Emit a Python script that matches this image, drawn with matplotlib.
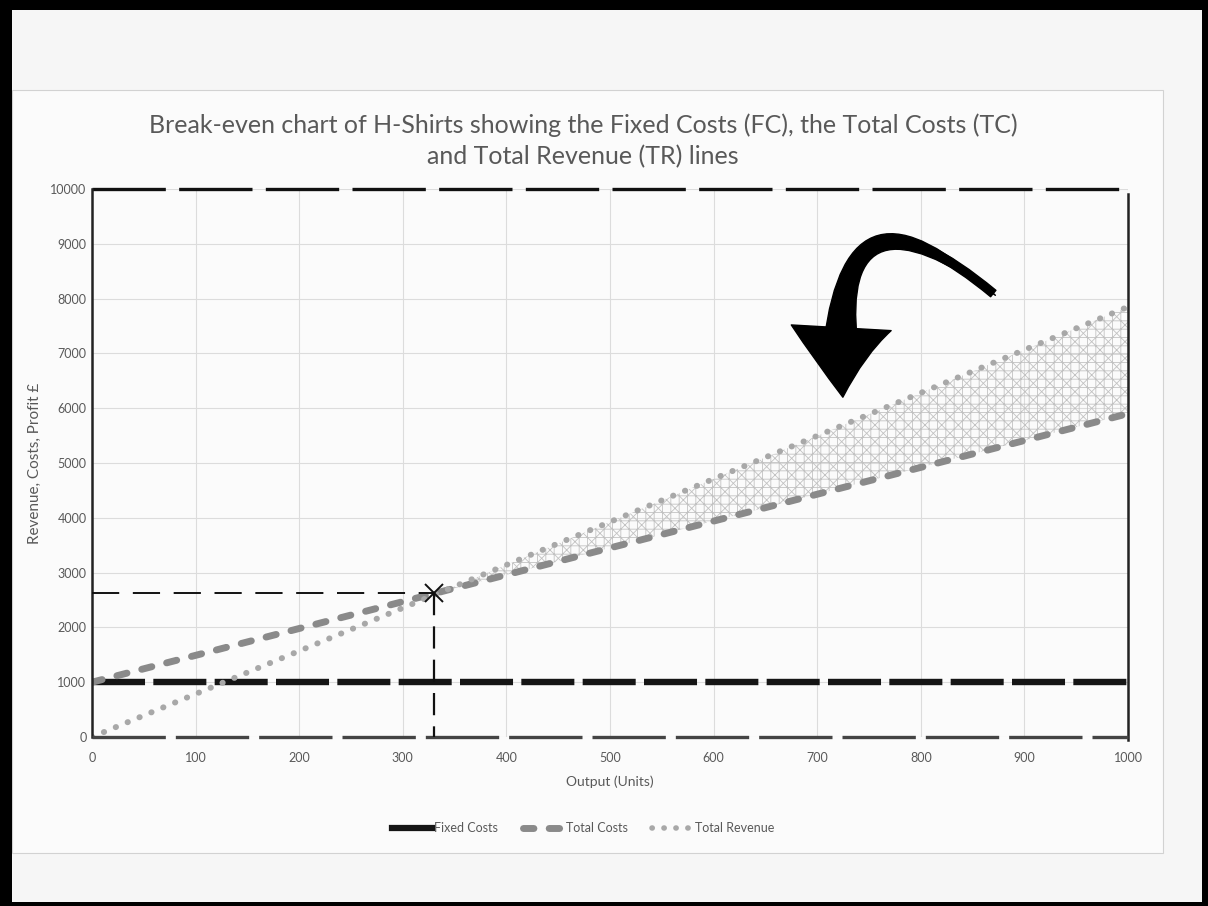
import matplotlib
matplotlib.use("Agg")
import matplotlib.pyplot as plt
from matplotlib.patches import Rectangle, FancyArrowPatch
from matplotlib.lines import Line2D
import numpy as np

# ---- data -------------------------------------------------------------
output_units = [0, 100, 200, 300, 400, 500, 600, 700, 800, 900, 1000]
fixed_costs = [1000, 1000, 1000, 1000, 1000, 1000, 1000, 1000, 1000, 1000, 1000]
total_costs = [1000, 1490, 1980, 2470, 2960, 3450, 3940, 4430, 4920, 5410, 5900]
total_revenue = [0, 785, 1570, 2355, 3140, 3925, 4710, 5495, 6280, 7065, 7850]

x_ticks = [0, 100, 200, 300, 400, 500, 600, 700, 800, 900, 1000]
y_ticks = [0, 1000, 2000, 3000, 4000, 5000, 6000, 7000, 8000, 9000, 10000]

# pencil annotations
break_even_output = 330
break_even_value = 2620
arrow_tail = (872, 8060)
arrow_head = (725, 6150)

title = ("Break-even chart of H-Shirts showing the Fixed Costs (FC), the Total Costs (TC)\n"
         "and Total Revenue (TR) lines")

TEXT = "#595959"
FONT = ["Lato", "DejaVu Sans"]
plt.rcParams["font.family"] = FONT

W, H = 1208, 906
fig = plt.figure(figsize=(W / 100, H / 100), dpi=100, facecolor="#f3f3f3")

def px(x0, y0, w, h):
    """Figure-fraction box from pixel coordinates (origin top-left)."""
    return [x0 / W, 1 - (y0 + h) / H, w / W, h / H]

# page
fig.patches.append(Rectangle((0, 0), 1, 1, transform=fig.transFigure,
                             facecolor="#f6f6f6", edgecolor="none", zorder=-10))
fig.patches.append(Rectangle((12 / W, 1 - 853 / H), (1163 - 12) / W, (853 - 90) / H,
                             transform=fig.transFigure, facecolor="#fbfbfb",
                             edgecolor="#d2d2d2", linewidth=0.8, zorder=-9))

ax = fig.add_axes(px(92, 189, 1036, 548))
ax.set_facecolor("none")
ax.set_xlim(0, 1000)
ax.set_ylim(0, 10000)
ax.set_xticks(x_ticks)
ax.set_yticks(y_ticks)
ax.tick_params(length=0, labelsize=9, labelcolor=TEXT)
ax.tick_params(axis="x", pad=11)
ax.tick_params(axis="y", pad=4)
for s in ax.spines.values():
    s.set_visible(False)
ax.grid(True, color="#dcdcdc", linewidth=0.8)
ax.set_axisbelow(True)

ax.set_xlabel("Output (Units)", fontsize=10, color=TEXT, labelpad=8)
ax.set_ylabel("Revenue, Costs, Profit £", fontsize=11, color=TEXT, labelpad=6)

# profit area shading (cross hatch between TR and TC)
tr = np.array(total_revenue, dtype=float)
tc = np.array(total_costs, dtype=float)
xs = np.array(output_units, dtype=float)
plt.rcParams["hatch.color"] = "#c2c2c2"
plt.rcParams["hatch.linewidth"] = 0.6
ax.fill_between(xs, tc, tr, where=tr >= tc, interpolate=True,
                facecolor="none", edgecolor="#c2c2c2", hatch="++xx", linewidth=0, zorder=1)

# series
fc_line, = ax.plot(output_units, fixed_costs, color="#151515", linewidth=4.6,
                   solid_capstyle="butt", dash_capstyle="butt", zorder=3)
fc_line.set_dashes([8.3, 1.3])
tc_line, = ax.plot(output_units, total_costs, color="#8a8a8a", linewidth=5,
                   dash_capstyle="round", zorder=4)
tc_line.set_dashes([1.5, 2.2])
tr_line, = ax.plot(output_units, total_revenue, color="#a8a8a8", linewidth=4.3,
                   dash_capstyle="round", zorder=4)
tr_line.set_dashes([0.05, 2.1])

# pencil frame drawn over the plot
top, = ax.plot([0, 1000], [10000, 10000], color="#111111", linewidth=2.4,
               clip_on=False, zorder=5)
top.set_dashes([22, 4])
ax.plot([0, 0], [0, 10000], color="#222222", linewidth=1.8, clip_on=False, zorder=5)
ax.plot([1000, 1000], [-50, 9900], color="#222222", linewidth=1.8, clip_on=False, zorder=5)
bottom, = ax.plot([0, 1000], [0, 0], color="#444444", linewidth=2.4,
                  clip_on=False, zorder=5)
bottom.set_dashes([22, 3])

# break-even guide lines and cross
h, = ax.plot([0, break_even_output], [break_even_value, break_even_value],
             color="#111111", linewidth=1.4, zorder=6)
h.set_dashes([14, 7])
v, = ax.plot([break_even_output, break_even_output], [break_even_value, 0],
             color="#111111", linewidth=1.6, zorder=6)
v.set_dashes([10, 5])
ax.plot([break_even_output], [break_even_value], marker="x", markersize=13,
        markeredgewidth=1.4, color="#111111", zorder=7)

# big curved arrow: tapered body plus a broad head along the same curve
body = FancyArrowPatch(arrow_head, arrow_tail,
                       connectionstyle="angle3,angleA=95,angleB=140",
                       arrowstyle="wedge,tail_width=24,shrink_factor=0.5",
                       shrinkA=42, shrinkB=0,
                       mutation_scale=1, color="black", zorder=8, clip_on=False)
ax.add_patch(body)
head = FancyArrowPatch(arrow_tail, arrow_head,
                       connectionstyle="angle3,angleA=140,angleB=95",
                       arrowstyle="simple,tail_width=6,head_width=72,head_length=50",
                       mutation_scale=1, color="black", zorder=8, clip_on=False)
ax.add_patch(head)

# title
fig.text(583 / W, 1 - 141 / H, title, ha="center", va="center",
         fontsize=18, color=TEXT, linespacing=1.4)

# legend
handles = [
    Line2D([], [], color="#151515", linewidth=4.5),
    Line2D([], [], color="#8a8a8a", linewidth=5, dashes=[1.5, 2.2], dash_capstyle="round"),
    Line2D([], [], color="#a8a8a8", linewidth=4.0, dashes=[0.05, 2.1], dash_capstyle="round"),
]
leg = fig.legend(handles, ["Fixed Costs", "Total Costs", "Total Revenue"],
                 loc="center", bbox_to_anchor=(583 / W, 1 - 828 / H), ncol=3,
                 frameon=False, fontsize=9, handlelength=3.2, handletextpad=0.2,
                 columnspacing=2.0)
for t in leg.get_texts():
    t.set_color(TEXT)

# black photo frame
for box in [(0, 0, 12, H), (W - 6, 0, 6, H), (0, 0, W, 10), (0, H - 4, W, 4)]:
    fig.patches.append(Rectangle((box[0] / W, 1 - (box[1] + box[3]) / H),
                                 box[2] / W, box[3] / H, transform=fig.transFigure,
                                 facecolor="black", edgecolor="none", zorder=20))

fig.savefig("out.png", dpi=100, facecolor=fig.get_facecolor())
